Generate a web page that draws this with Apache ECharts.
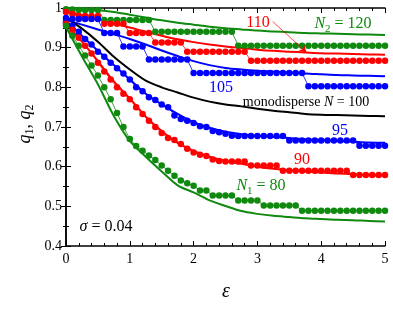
<!DOCTYPE html>
<html><head><meta charset="utf-8">
<script src="https://cdn.jsdelivr.net/npm/echarts@6/dist/echarts.min.js"></script>
<style>html,body{margin:0;padding:0;background:#fff}#c{width:393px;height:314px}</style>
</head><body><div id="c"></div>
<script>
// epsilon grid of simulation points (dots)
const epsDots = [0,0.1,0.2,0.3,0.4,0.5,0.6,0.7,0.8,0.9,1,1.1,1.2,1.3,1.4,1.5,1.6,1.7,1.8,1.9,2,2.1,2.2,2.3,2.4,2.5,2.6,2.7,2.8,2.9,3,3.1,3.2,3.3,3.4,3.5,3.6,3.7,3.8,3.9,4,4.1,4.2,4.3,4.4,4.5,4.6,4.7,4.8,4.9,5];
// epsilon grid of theory curves (solid lines)
const epsLines = [0,0.25,0.5,0.75,1,1.25,1.5,1.75,2,2.25,2.5,2.75,3,3.25,3.5,3.75,4,4.25,4.5,4.75,5];

// simulation dots
const dotsN120 = [0.997,0.996,0.995,0.995,0.995,0.995,
  0.97,0.97,0.97,0.97,0.97,0.97,0.97,0.97,
  0.94,0.94,0.94,0.94,0.94,0.94,0.94,0.94,0.94,0.94,0.94,0.94,0.94,
  0.905,0.905,0.905,0.905,0.905,0.905,0.905,0.905,0.905,0.905,0.905,0.905,0.905,0.905,0.905,0.905,0.905,0.905,0.905,0.905,0.905,0.905,0.905,0.905];
const dotsN110 = [0.99,0.985,0.98,0.98,0.98,0.98,
  0.96,0.96,0.96,0.96,
  0.937,0.937,0.937,0.937,
  0.913,0.913,0.913,0.913,0.913,
  0.89,0.89,0.89,0.89,0.89,0.89,0.89,0.89,0.89,0.89,
  0.867,0.867,0.867,0.867,0.867,0.867,0.867,0.867,0.867,0.867,0.867,0.867,0.867,0.867,0.867,0.867,0.867,0.867,0.867,0.867,0.867,0.867];
const dotsN105 = [0.975,0.972,0.972,0.972,0.972,0.972,
  0.937,0.937,0.937,
  0.903,0.903,0.903,0.903,
  0.87,0.87,0.87,0.87,0.87,0.87,0.87,
  0.836,0.836,0.836,0.836,0.836,0.836,0.836,0.836,0.836,0.836,0.836,0.836,0.836,0.836,0.836,0.836,0.836,0.836,
  0.803,0.803,0.803,0.803,0.803,0.803,0.803,0.803,0.803,0.803,0.803,0.803,0.803];
const dotsN95 = [0.965,0.955,0.94,0.922,0.908,0.89,0.877,0.862,0.848,0.835,0.82,0.8,0.79,0.775,0.768,0.757,0.75,0.729,0.72,0.716,0.71,0.702,0.7,0.69,0.687,0.683,
  0.678,0.677,0.677,0.677,0.677,0.677,0.677,0.677,0.677,
  0.666,0.666,0.666,0.666,0.666,0.666,0.666,0.666,0.666,0.666,0.666,
  0.653,0.653,0.653,0.653,0.653];
const dotsN90 = [0.96,0.945,0.925,0.905,0.885,0.862,0.84,0.82,0.8,0.784,0.77,0.75,0.733,0.716,0.7,0.685,0.672,0.667,0.657,0.645,0.636,0.63,0.627,0.618,0.614,
  0.613,0.613,0.613,0.613,
  0.603,0.603,0.603,0.603,0.603,
  0.59,0.59,0.59,0.59,0.59,0.59,0.59,0.59,0.59,0.59,0.59,
  0.579,0.579,0.579,0.579,0.579,0.579];
const dotsN80 = [0.955,0.93,0.905,0.88,0.855,0.83,0.8,0.77,0.735,0.7,0.67,0.652,0.64,0.628,0.617,0.603,0.59,0.577,0.565,0.558,0.552,
  0.54,0.54,
  0.527,0.527,0.527,0.527,
  0.515,0.515,0.515,0.515,
  0.502,0.502,0.502,0.502,0.502,0.502,
  0.489,0.489,0.489,0.489,0.489,0.489,0.489,0.489,0.489,0.489,0.489,0.489,0.489,0.489];

// theory curves
const lineN120 = [1.0,0.998,0.995,0.99,0.983,0.976,0.969,0.963,0.958,0.953,0.949,0.946,0.943,0.941,0.939,0.937,0.936,0.935,0.934,0.933,0.932];
const lineN110 = [0.993,0.982,0.972,0.961,0.951,0.94,0.93,0.921,0.914,0.908,0.903,0.899,0.895,0.892,0.89,0.888,0.886,0.885,0.884,0.883,0.882];
const lineN105 = [0.97,0.958,0.946,0.934,0.922,0.908,0.893,0.879,0.866,0.856,0.849,0.845,0.842,0.84,0.838,0.835,0.833,0.831,0.83,0.829,0.828];
const lineMono = [0.975,0.948,0.915,0.877,0.845,0.817,0.8,0.787,0.774,0.764,0.757,0.752,0.746,0.741,0.737,0.733,0.731,0.73,0.729,0.728,0.727];
const lineN95  = [0.968,0.93,0.892,0.856,0.82,0.784,0.757,0.733,0.712,0.698,0.688,0.682,0.678,0.675,0.672,0.669,0.667,0.665,0.663,0.661,0.66];
const lineN90  = [0.96,0.915,0.866,0.815,0.772,0.726,0.69,0.66,0.64,0.625,0.615,0.607,0.6,0.595,0.591,0.588,0.585,0.583,0.581,0.579,0.578];
const lineN80  = [0.952,0.878,0.808,0.728,0.665,0.625,0.588,0.553,0.535,0.515,0.501,0.488,0.481,0.476,0.473,0.47,0.468,0.466,0.465,0.463,0.462];

const xTicks = [0,1,2,3,4,5];
const yTicks = [0.4,0.5,0.6,0.7,0.8,0.9,1];

const GREEN = '#0f8a0f', RED = '#ff0000', BLUE = '#0000ff', BLACK = '#000000';
const SERIF = '"Liberation Serif","DejaVu Serif",serif';

function zip(xs, ys){ return xs.map((x,i)=>[x, ys[i]]); }
function mkLine(ys, color, extra){
  return Object.assign({type:'line', data: zip(epsLines, ys), smooth: 0.3, showSymbol:false, symbol:'none',
    lineStyle:{color, width:2}, itemStyle:{color}, z:2, silent:true}, extra||{});
}
function mkDots(ys, color){
  return {type:'line', data: zip(epsDots, ys), symbol:'circle', symbolSize:6.5, showSymbol:true,
    lineStyle:{color, width:0.8}, itemStyle:{color, borderWidth:0}, z:3, silent:true};
}

const axisCommon = {
  axisLine:{show:true, lineStyle:{color:'#000', width:1.5}},
  axisTick:{show:true, inside:true, length:5, lineStyle:{color:'#000', width:1}},
  minorTick:{show:true, length:3, lineStyle:{color:'#000', width:1}},
  splitLine:{show:false}
};

const chart = echarts.init(document.getElementById('c'), null, {renderer:'canvas'});
chart.setOption({
  animation:false,
  backgroundColor:'#fff',
  grid:{left:66, right:8, top:8, bottom:68, containLabel:false},
  xAxis:[
    Object.assign({type:'value', min:xTicks[0], max:xTicks[xTicks.length-1], interval:1, position:'bottom',
      minorTick:{show:true, splitNumber:5, length:3, lineStyle:{color:'#000'}},
      axisLabel:{color:'#000', fontFamily:SERIF, fontSize:14, margin:6,
        formatter:(v)=> xTicks.includes(v) ? String(v) : ''}}, axisCommon,
      {minorTick:{show:true, splitNumber:5, length:3, lineStyle:{color:'#000'}}}),
    Object.assign({type:'value', min:0, max:5, interval:1, position:'top', axisLabel:{show:false}}, axisCommon,
      {minorTick:{show:true, splitNumber:5, length:3, lineStyle:{color:'#000'}}})
  ],
  yAxis:[
    Object.assign({type:'value', min:yTicks[0], max:yTicks[yTicks.length-1], interval:0.1, position:'left',
      axisLabel:{color:'#000', fontFamily:SERIF, fontSize:14, margin:4,
        formatter:(v)=> Math.abs(v-1)<1e-9 ? '1' : v.toFixed(1)}}, axisCommon,
      {minorTick:{show:true, splitNumber:2, length:3, lineStyle:{color:'#000'}}}),
    Object.assign({type:'value', min:0.4, max:1, interval:0.1, position:'right', axisLabel:{show:false}}, axisCommon,
      {minorTick:{show:true, splitNumber:2, length:3, lineStyle:{color:'#000'}}})
  ],
  series:[
    mkLine(lineN120, GREEN),
    mkLine(lineN110, RED, {markLine:{silent:true, symbol:['none','arrow'], symbolSize:[6,7],
      label:{show:false}, lineStyle:{color:RED, width:0.7, type:'solid'},
      data:[[{coord:[3.24,0.966]},{coord:[3.77,0.888]}]]}}),
    mkLine(lineN105, BLUE),
    mkLine(lineMono, BLACK),
    mkLine(lineN95, BLUE),
    mkLine(lineN90, RED),
    mkLine(lineN80, GREEN),
    mkDots(dotsN120, GREEN),
    mkDots(dotsN110, RED),
    mkDots(dotsN105, BLUE),
    mkDots(dotsN95, BLUE),
    mkDots(dotsN90, RED),
    mkDots(dotsN80, GREEN)
  ],
  graphic:[
    {type:'text', x:258, y:23, z:10, style:{text:'110', fill:RED, font:'16px '+SERIF, align:'center', verticalAlign:'middle'}},
    {type:'text', x:343, y:24, z:10, style:{text:'{n|N}{s|2}{t| = 120}', align:'center', verticalAlign:'middle',
      rich:{n:{fill:GREEN, font:'italic 16px '+SERIF, lineHeight:22}, s:{fill:GREEN, font:'11px '+SERIF, verticalAlign:'bottom'}, t:{fill:GREEN, font:'16px '+SERIF, lineHeight:22}}}},
    {type:'text', x:221, y:88, z:10, style:{text:'105', fill:BLUE, font:'16px '+SERIF, align:'center', verticalAlign:'middle'}},
    {type:'text', x:306, y:102, z:10, style:{text:'{t|monodisperse }{n|N}{t| = 100}', align:'center', verticalAlign:'middle',
      rich:{t:{fill:BLACK, font:'14px '+SERIF}, n:{fill:BLACK, font:'italic 14px '+SERIF}}}},
    {type:'text', x:340, y:131, z:10, style:{text:'95', fill:BLUE, font:'16px '+SERIF, align:'center', verticalAlign:'middle'}},
    {type:'text', x:302, y:160, z:10, style:{text:'90', fill:RED, font:'16px '+SERIF, align:'center', verticalAlign:'middle'}},
    {type:'text', x:261, y:186, z:10, style:{text:'{n|N}{s|1}{t| = 80}', align:'center', verticalAlign:'middle',
      rich:{n:{fill:GREEN, font:'italic 16px '+SERIF, lineHeight:22}, s:{fill:GREEN, font:'11px '+SERIF, verticalAlign:'bottom'}, t:{fill:GREEN, font:'16px '+SERIF, lineHeight:22}}}},
    {type:'text', x:106, y:227, z:10, style:{text:'{n|σ}{t| = 0.04}', align:'center', verticalAlign:'middle',
      rich:{n:{fill:BLACK, font:'italic 16px '+SERIF}, t:{fill:BLACK, font:'16px '+SERIF}}}},
    {type:'text', x:25, y:124, rotation:Math.PI/2, z:10, style:{text:'{n|q}{s|1}{t|, }{n|q}{s|2}', align:'center', verticalAlign:'middle',
      rich:{n:{fill:BLACK, font:'italic 18px '+SERIF, lineHeight:22}, s:{fill:BLACK, font:'12px '+SERIF, verticalAlign:'bottom'}, t:{fill:BLACK, font:'18px '+SERIF, lineHeight:22}}}},
    {type:'text', x:226, y:292, z:10, style:{text:'ε', fill:BLACK, font:'italic 20px '+SERIF, align:'center', verticalAlign:'middle'}}
  ]
});
</script></body></html>
